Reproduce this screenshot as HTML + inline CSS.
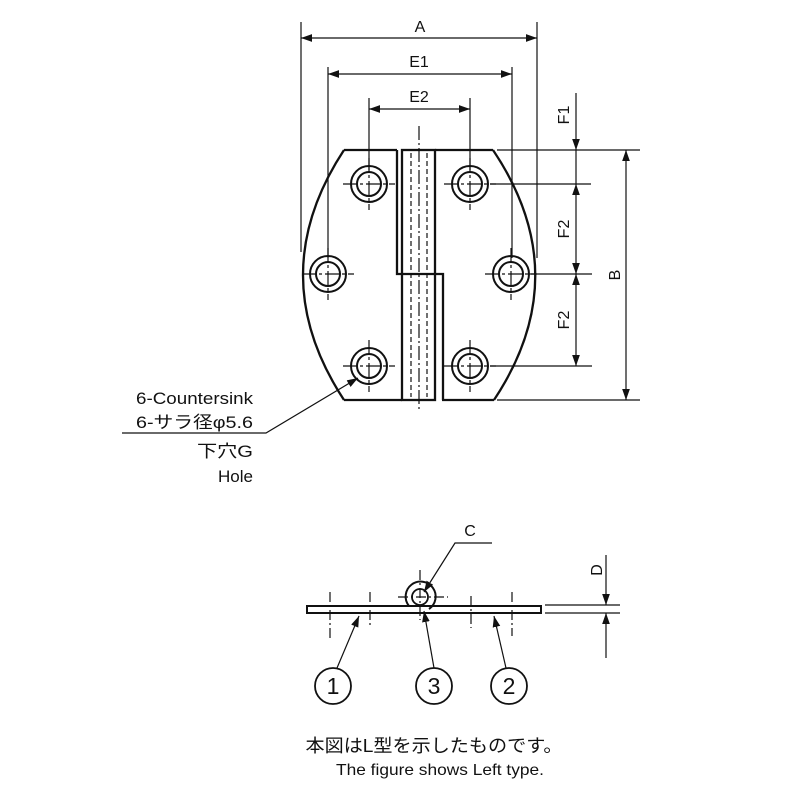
<!DOCTYPE html>
<html><head><meta charset="utf-8"><style>
html,body{margin:0;padding:0;background:#fff}
svg{display:block}
text{font-family:"Liberation Sans","Noto Sans CJK JP",sans-serif;fill:#111}
</style></head><body>
<svg width="800" height="800" viewBox="0 0 800 800" xmlns="http://www.w3.org/2000/svg">
<defs>
<marker id="ar" viewBox="0 0 10 10" refX="10" refY="5" markerWidth="11" markerHeight="11" markerUnits="userSpaceOnUse" orient="auto-start-reverse"><path d="M0,1.5 L10,5 L0,8.5 z" fill="#111"/></marker>
</defs>
<g stroke="#111" fill="none" stroke-width="1.2">
<line x1="301" y1="22" x2="301" y2="252"/>
<line x1="537" y1="22" x2="537" y2="258"/>
<line x1="301" y1="38" x2="537" y2="38" marker-start="url(#ar)" marker-end="url(#ar)"/>
<line x1="328" y1="67" x2="328" y2="258"/>
<line x1="512" y1="67" x2="512" y2="258"/>
<line x1="328" y1="74" x2="512" y2="74" marker-start="url(#ar)" marker-end="url(#ar)"/>
<line x1="369" y1="98" x2="369" y2="170"/>
<line x1="470" y1="98" x2="470" y2="170"/>
<line x1="369" y1="109" x2="470" y2="109" marker-start="url(#ar)" marker-end="url(#ar)"/>
<line x1="497" y1="150" x2="640" y2="150"/>
<line x1="490" y1="184" x2="591" y2="184"/>
<line x1="530" y1="274" x2="592" y2="274"/>
<line x1="490" y1="366" x2="592" y2="366"/>
<line x1="497" y1="400" x2="640" y2="400"/>
<line x1="576" y1="93" x2="576" y2="150" marker-end="url(#ar)"/>
<line x1="576" y1="150" x2="576" y2="184"/>
<line x1="576" y1="184" x2="576" y2="274" marker-start="url(#ar)" marker-end="url(#ar)"/>
<line x1="576" y1="274" x2="576" y2="366" marker-start="url(#ar)" marker-end="url(#ar)"/>
<line x1="626" y1="150" x2="626" y2="400" marker-start="url(#ar)" marker-end="url(#ar)"/>
<g stroke-width="2.3">
<path d="M344,150 Q262,275 344,400"/>
<path d="M493,150 Q577,275 494,400"/>
<line x1="344" y1="150" x2="397" y2="150"/>
<line x1="435" y1="150" x2="493" y2="150"/>
<line x1="344" y1="400" x2="402" y2="400"/>
<line x1="442" y1="400" x2="494" y2="400"/>
<path d="M397,150 V274 H443 V400"/>
<rect x="402" y="150" width="33" height="250"/>
</g>
<line x1="411" y1="153" x2="411" y2="397" stroke-dasharray="5,3"/>
<line x1="427" y1="153" x2="427" y2="397" stroke-dasharray="5,3"/>
<line x1="419" y1="126" x2="419" y2="412" stroke-dasharray="14,3,2,3"/>
<g stroke-width="2">
<circle cx="369" cy="184" r="18"/><circle cx="369" cy="184" r="12"/>
<circle cx="328" cy="274" r="18"/><circle cx="328" cy="274" r="12"/>
<circle cx="369" cy="366" r="18"/><circle cx="369" cy="366" r="12"/>
<circle cx="470" cy="184" r="18"/><circle cx="470" cy="184" r="12"/>
<circle cx="511" cy="274" r="18"/><circle cx="511" cy="274" r="12"/>
<circle cx="470" cy="366" r="18"/><circle cx="470" cy="366" r="12"/>
</g>
<g stroke-dasharray="14,3,3,3">
<line x1="343" y1="184" x2="395" y2="184"/><line x1="369" y1="158" x2="369" y2="210"/>
<line x1="302" y1="274" x2="354" y2="274"/><line x1="328" y1="248" x2="328" y2="300"/>
<line x1="343" y1="366" x2="395" y2="366"/><line x1="369" y1="340" x2="369" y2="392"/>
<line x1="444" y1="184" x2="496" y2="184"/><line x1="470" y1="158" x2="470" y2="210"/>
<line x1="485" y1="274" x2="537" y2="274"/><line x1="511" y1="248" x2="511" y2="300"/>
<line x1="444" y1="366" x2="496" y2="366"/><line x1="470" y1="340" x2="470" y2="392"/>
</g>
<polyline points="122,433 266,433 358,378" marker-end="url(#ar)"/>
<rect x="307" y="606" width="234" height="7" stroke-width="2"/>
<path d="M409,606 A15,15 0 1 1 429,609" stroke-width="2"/>
<circle cx="420" cy="597" r="8" stroke-width="1.8"/>
<g stroke-dasharray="10,3,2,3">
<line x1="330" y1="592" x2="330" y2="638"/>
<line x1="370" y1="592" x2="370" y2="628"/>
<line x1="471" y1="596" x2="471" y2="628"/>
<line x1="512" y1="592" x2="512" y2="636"/>
<line x1="420" y1="570" x2="420" y2="620"/>
<line x1="398" y1="597" x2="448" y2="597"/>
</g>
<polyline points="492,543 455,543 424,592" marker-end="url(#ar)"/>
<line x1="545" y1="605" x2="620" y2="605"/>
<line x1="545" y1="613" x2="620" y2="613"/>
<line x1="606" y1="555" x2="606" y2="605" marker-end="url(#ar)"/>
<line x1="606" y1="658" x2="606" y2="613" marker-end="url(#ar)"/>
<line x1="337" y1="668" x2="359" y2="616" marker-end="url(#ar)"/>
<line x1="434" y1="668" x2="424" y2="611" marker-end="url(#ar)"/>
<line x1="506" y1="668" x2="494" y2="616" marker-end="url(#ar)"/>
<circle cx="333" cy="686" r="18" stroke-width="1.8"/>
<circle cx="434" cy="686" r="18" stroke-width="1.8"/>
<circle cx="509" cy="686" r="18" stroke-width="1.8"/>
</g>
<g font-size="16">
<text x="420" y="32" text-anchor="middle">A</text>
<text x="419" y="67" text-anchor="middle">E1</text>
<text x="419" y="102" text-anchor="middle">E2</text>
<text transform="translate(569,115) rotate(-90)" text-anchor="middle">F1</text>
<text transform="translate(569,229) rotate(-90)" text-anchor="middle">F2</text>
<text transform="translate(569,320) rotate(-90)" text-anchor="middle">F2</text>
<text transform="translate(620,275) rotate(-90)" text-anchor="middle">B</text>
<text transform="translate(602,570) rotate(-90)" text-anchor="middle">D</text>
<text x="470" y="536" text-anchor="middle">C</text>
</g>
<g font-size="17" text-anchor="end">
<text x="253" y="404" textLength="117" lengthAdjust="spacingAndGlyphs">6-Countersink</text>
<text x="253" y="428" textLength="117" lengthAdjust="spacingAndGlyphs">6-サラ径φ5.6</text>
<text x="253" y="457" textLength="56" lengthAdjust="spacingAndGlyphs">下穴G</text>
<text x="253" y="482" textLength="35" lengthAdjust="spacingAndGlyphs">Hole</text>
</g>
<g font-size="23" text-anchor="middle">
<text x="333" y="694">1</text>
<text x="434" y="694">3</text>
<text x="509" y="694">2</text>
</g>
<text x="434" y="752" font-size="18" text-anchor="middle" textLength="257" lengthAdjust="spacingAndGlyphs">本図はL型を示したものです。</text>
<text x="440" y="775" font-size="16" text-anchor="middle" textLength="208" lengthAdjust="spacingAndGlyphs">The figure shows Left type.</text>
</svg>
</body></html>
